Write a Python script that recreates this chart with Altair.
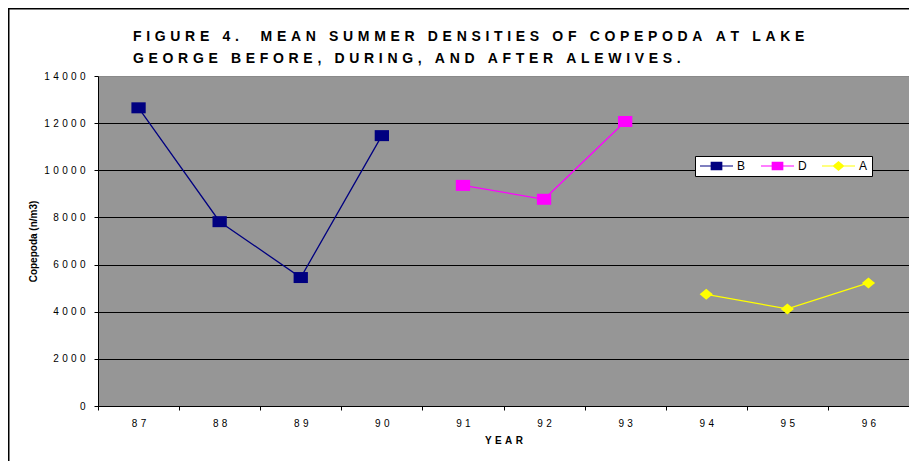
import altair as alt
import pandas as pd

years = ["87", "88", "89", "90", "91", "92", "93", "94", "95", "96"]
series = ["B", "B", "B", "B", "D", "D", "D", "A", "A", "A"]
values = [12650, 7820, 5450, 11470, 9360, 8770, 12070, 4740, 4120, 5220]

series_order = ["B", "D", "A"]
series_colors = ["#000080", "#FF00FF", "#FFFF00"]

title_lines = [
    "FIGURE 4.  MEAN SUMMER DENSITIES OF COPEPODA AT LAKE",
    "GEORGE BEFORE, DURING, AND AFTER ALEWIVES.",
]
y_title = "Copepoda (n/m3)"
x_title = "YEAR"
y_ticks = [0, 2000, 4000, 6000, 8000, 10000, 12000, 14000]

SP = "\u2004"


def spaced(s):
    return SP.join(s)


df = pd.DataFrame({"year": years, "series": series, "value": values})

W, H = 811, 330
PAD_L, PAD_T, PAD_R, PAD_B = 90, 68, 0, 55

SQUARE = "M-1.3,-1H1.3V1H-1.3Z"
DIAMOND = "M-1.2,0L0,-1L1.2,0L0,1Z"
LEG_SQ = "M-1,-0.1H5.6V0.1H-1Z M1.13,-0.83H3.47V0.83H1.13Z"
LEG_DI = "M-1,-0.1H5.6V0.1H-1Z M1.1,0L2.3,-1L3.5,0L2.3,1Z"

x_enc = alt.X(
    "year:O",
    scale=alt.Scale(type="band", domain=years, paddingInner=0, paddingOuter=0),
    axis=alt.Axis(
        title=spaced(x_title),
        titleFontWeight="bold",
        titleFontSize=10,
        titlePadding=7,
        labelAngle=0,
        labelFontSize=10,
        labelPadding=8,
        labelExpr="join(split(datum.label, ''), '" + SP + "')",
        tickBand="extent",
        tickSize=4,
        tickColor="black",
        domainColor="black",
        grid=False,
    ),
)
y_enc = alt.Y(
    "value:Q",
    scale=alt.Scale(domain=[0, 14000], nice=False),
    axis=alt.Axis(
        title=y_title,
        titleFontWeight="bold",
        titleFontSize=10,
        titlePadding=5,
        values=y_ticks,
        format="d",
        labelFontSize=10,
        labelPadding=9,
        labelExpr="join(split(datum.label, ''), '" + SP + "')",
        tickSize=4,
        tickColor="black",
        domainColor="black",
        grid=True,
        gridColor={"condition": {"test": "datum.value === 14000", "value": "#8a8a8a"}, "value": "black"},
        gridWidth=1,
    ),
)

color_scale = alt.Scale(domain=series_order, range=series_colors)

legend_props = dict(
    title=None,
    orient="none",
    legendX=597,
    legendY=80,
    direction="horizontal",
    columns=3,
    fillColor="white",
    strokeColor="black",
    padding=4,
    symbolSize=100,
    symbolStrokeWidth=0,
    symbolOpacity=1,
    labelFontSize=12,
    labelOffset=26,
    columnPadding=14,
    labelColor="black",
)

legend_layer = alt.Chart(df).transform_filter("false").mark_point(
    filled=True, opacity=1
).encode(
    x=x_enc,
    y=y_enc,
    color=alt.Color("series:N", scale=color_scale, legend=alt.Legend(**legend_props)),
    shape=alt.Shape(
        "series:N",
        scale=alt.Scale(domain=series_order, range=[LEG_SQ, LEG_SQ, LEG_DI]),
        legend=alt.Legend(**legend_props),
    ),
)

lines = alt.Chart(df).mark_line(strokeWidth=1.3).encode(
    x=x_enc,
    y=y_enc,
    color=alt.Color("series:N", scale=color_scale, legend=None),
    detail="series:N",
)

squares = alt.Chart(df).transform_filter("datum.series !== 'A'").mark_point(
    filled=True, size=121, opacity=1, shape=SQUARE
).encode(
    x=x_enc,
    y=y_enc,
    color=alt.Color("series:N", scale=color_scale, legend=None),
)

diamonds = alt.Chart(df).transform_filter("datum.series === 'A'").mark_point(
    filled=True, size=121, opacity=1, shape=DIAMOND
).encode(
    x=x_enc,
    y=y_enc,
    color=alt.Color("series:N", scale=color_scale, legend=None),
)

frame_data = alt.Data(values=[{"k": 1}])
left_rule = alt.Chart(frame_data).mark_rule(color="black", strokeWidth=2).encode(
    x=alt.value(-PAD_L + 0.5),
    y=alt.value(-PAD_T),
    y2=alt.value(H + PAD_B),
)
top_rule = alt.Chart(frame_data).mark_rule(color="black", strokeWidth=2).encode(
    x=alt.value(-PAD_L),
    x2=alt.value(W + PAD_R),
    y=alt.value(-PAD_T + 0.5),
)

chart = (
    alt.layer(legend_layer, lines, squares, diamonds, left_rule, top_rule)
    .properties(
        width=W,
        height=H,
        padding={"left": PAD_L, "top": PAD_T, "right": PAD_R, "bottom": PAD_B},
        autosize=alt.AutoSizeParams(type="none"),
        title=alt.TitleParams(
            text=[spaced(t) for t in title_lines],
            anchor="start",
            frame="group",
            dx=35,
            dy=59,
            offset=0,
            fontSize=14,
            fontWeight="bold",
            font="Liberation Sans",
            lineHeight=22,
            color="black",
        ),
    )
    .configure(font="Liberation Sans", background="white")
    .configure_view(fill="#969696", stroke="transparent")
    .configure_axis(labelColor="black", titleColor="black", labelFont="Liberation Sans", titleFont="Liberation Sans")
)

chart.save("out.html", embed_options={"renderer": "svg", "actions": False})
